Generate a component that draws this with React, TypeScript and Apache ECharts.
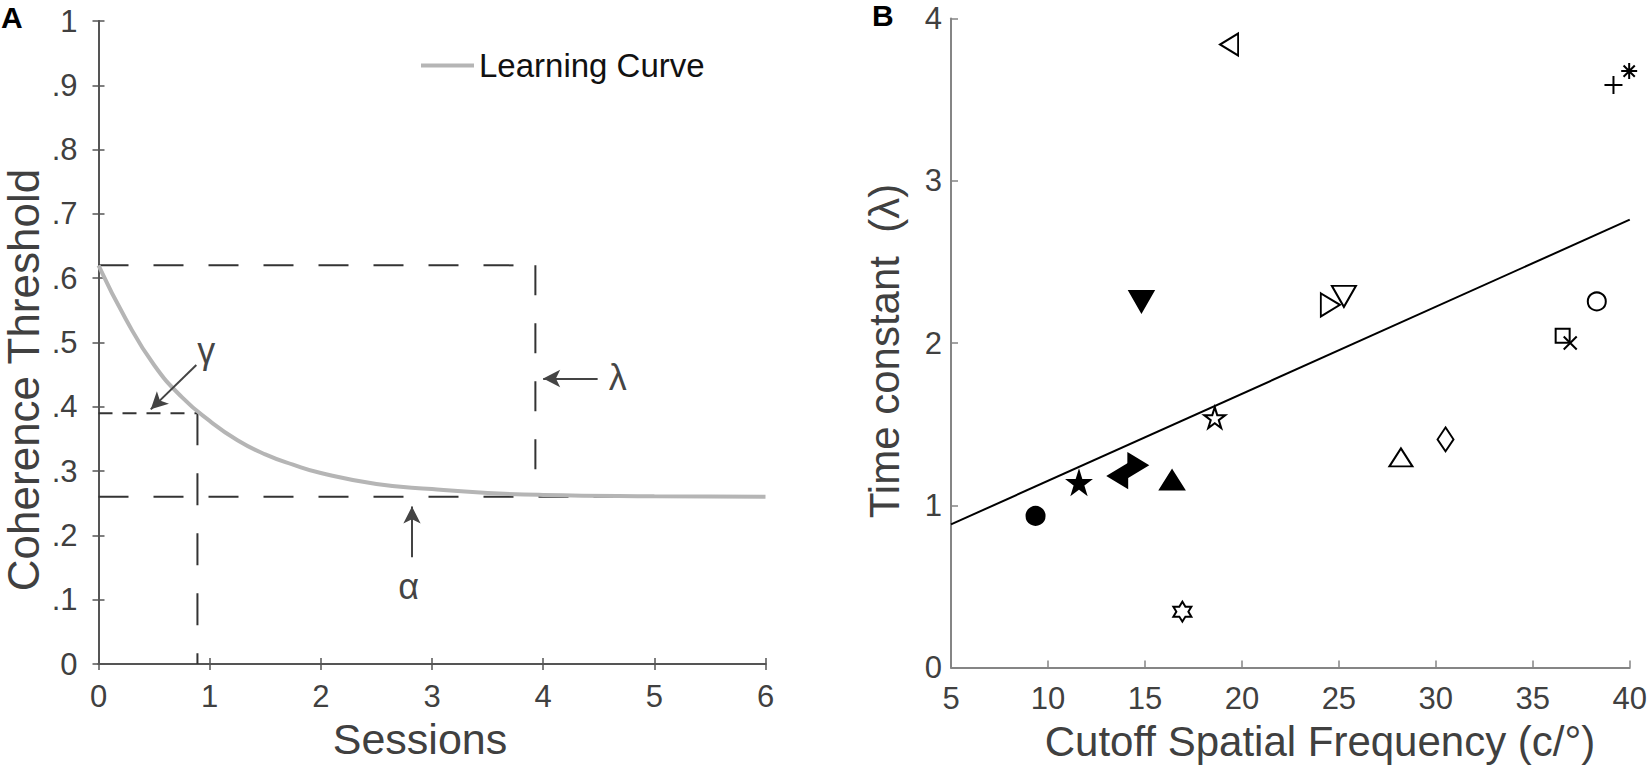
import React, { useEffect, useRef } from "react";
import * as echarts from "echarts";

// ---------- Panel A data ----------
const sessionRange = [0, 6];
const thresholdRange = [0, 1];
const curveSessions = [0, 0.25, 0.5, 0.75, 1, 1.25, 1.5, 1.75, 2, 2.5, 3, 3.5, 4, 5, 6];
const curveThreshold = [0.62, 0.535, 0.465, 0.415, 0.378, 0.348, 0.326, 0.31, 0.297, 0.28, 0.272, 0.266, 0.263, 0.261, 0.26];

const initialThreshold = 0.62;
const asymptoteThreshold = 0.26;
const gammaThreshold = 0.39;
const gammaSession = 0.89;
const lambdaSession = 3.93;
const asymptoteLineEnd = 5.4;

// arrows: [fromSession, fromThreshold, toSession, toThreshold]
const gammaArrow = [0.88, 0.465, 0.47, 0.396];
const lambdaArrow = [4.49, 0.444, 4.0, 0.444];
const alphaArrow = [2.82, 0.166, 2.82, 0.245];

const annotationText = ["γ", "λ", "α"];
const annotationSession = [0.97, 4.67, 2.79];
const annotationThreshold = [0.487, 0.445, 0.12];

// ---------- Panel B data ----------
const sfRange = [5, 40];
const timeRange = [0, 4];
const markerKinds = [
  "filledCircle", "filledPentagram", "filledLeftTriangle", "filledRightTriangle",
  "filledUpTriangle", "openPentagram", "openHexagram", "openUpTriangle", "openDiamond",
  "plus", "asterisk", "openCircle", "openSquare", "cross", "openLeftTriangle",
  "filledDownTriangle", "openRightTriangle", "openDownTriangle",
];
const cutoffSF = [9.36, 11.6, 13.6, 14.63, 16.4, 18.6, 16.93, 28.2, 30.5, 39.16, 39.97, 38.3, 36.54, 36.93, 19.34, 14.82, 24.56, 25.26];
const timeConstant = [0.934, 1.14, 1.18, 1.247, 1.155, 1.54, 0.344, 1.295, 1.406, 3.59, 3.676, 2.256, 2.044, 2.0, 3.84, 2.256, 2.235, 2.287];
const fitSF = [5, 40];
const fitTime = [0.882, 2.76];

// ---------- Styles ----------
const FONT = "'Liberation Sans', Arial, Helvetica, sans-serif";
const LABEL_COLOR = "#404040";

const STAR = "path://M50,0 L61.23,34.55 L97.55,34.55 L68.17,55.9 L79.39,90.45 L50,69.1 L20.61,90.45 L31.83,55.9 L2.45,34.55 L38.77,34.55 Z";
const HEX = "path://M50,0 L64.43,25 L93.3,25 L78.87,50 L93.3,75 L64.43,75 L50,100 L35.57,75 L6.7,75 L21.13,50 L6.7,25 L35.57,25 Z";
const UP = "path://M50,0 L100,86 L0,86 Z";
const DOWN = "path://M0,0 L100,0 L50,86 Z";
const LEFT = "path://M0,50 L86,0 L86,100 Z";
const RIGHT = "path://M0,0 L86,50 L0,100 Z";
const PLUS = "path://M50,0 L50,100 M0,50 L100,50";
const ASTER = "path://M50,0 L50,100 M0,50 L100,50 M15,15 L85,85 M85,15 L15,85";
const CROSS = "path://M0,0 L100,100 M100,0 L0,100";

const markerStyle: Record<string, { symbol: string; size: number[]; filled: boolean }> = {
  filledCircle: { symbol: "circle", size: [18, 18], filled: true },
  filledPentagram: { symbol: STAR, size: [22, 22], filled: true },
  filledLeftTriangle: { symbol: LEFT, size: [19, 23], filled: true },
  filledRightTriangle: { symbol: RIGHT, size: [19, 23], filled: true },
  filledUpTriangle: { symbol: UP, size: [24, 19], filled: true },
  openPentagram: { symbol: STAR, size: [21, 21], filled: false },
  openHexagram: { symbol: HEX, size: [18, 20], filled: false },
  openUpTriangle: { symbol: UP, size: [23, 18], filled: false },
  openDiamond: { symbol: "diamond", size: [16, 24], filled: false },
  plus: { symbol: PLUS, size: [18, 18], filled: true },
  asterisk: { symbol: ASTER, size: [16, 16], filled: true },
  openCircle: { symbol: "circle", size: [18, 18], filled: false },
  openSquare: { symbol: "rect", size: [14, 14], filled: false },
  cross: { symbol: CROSS, size: [13, 13], filled: true },
  openLeftTriangle: { symbol: LEFT, size: [18, 22], filled: false },
  filledDownTriangle: { symbol: DOWN, size: [24, 21], filled: true },
  openRightTriangle: { symbol: RIGHT, size: [19, 23], filled: false },
  openDownTriangle: { symbol: DOWN, size: [24, 21], filled: false },
};

function buildOption() {
  const axA = "#555555";
  const axB = "#858585";
  const tickLabel = (margin: number) => ({
    fontSize: 31,
    color: LABEL_COLOR,
    fontFamily: FONT,
    margin,
  });

  const dashed = (pts: number[][], dash: number[], name: string) => ({
    type: "line",
    name,
    xAxisIndex: 0,
    yAxisIndex: 0,
    data: pts,
    showSymbol: false,
    symbol: "none",
    silent: true,
    z: 2,
    lineStyle: { color: "#333333", width: 2, type: dash },
  });

  const arrowPair = (a: number[]) => [{ coord: [a[0], a[1]] }, { coord: [a[2], a[3]] }];

  const scatterData = markerKinds.map((k, i) => {
    const st = markerStyle[k];
    return {
      value: [cutoffSF[i], timeConstant[i]],
      symbol: st.symbol,
      symbolSize: st.size,
      itemStyle: {
        color: st.filled ? "#000000" : "#ffffff",
        borderColor: "#000000",
        borderWidth: 2,
        opacity: 1,
      },
    };
  });

  return {
    animation: false,
    backgroundColor: "#ffffff",
    grid: [
      { left: 98.5, top: 21, width: 667, height: 643 },
      { left: 951, top: 18.5, width: 681, height: 649 },
    ],
    legend: {
      data: ["Learning Curve"],
      left: 421,
      top: 49,
      icon: "rect",
      itemWidth: 53,
      itemHeight: 4,
      padding: 0,
      textStyle: { fontSize: 33, color: "#111111", fontFamily: FONT },
    },
    xAxis: [
      {
        gridIndex: 0, type: "value", min: sessionRange[0], max: sessionRange[1], interval: 1,
        position: "bottom",
        axisLine: { show: true, lineStyle: { color: axA, width: 2 } },
        axisTick: { show: true, inside: true, length: 6, lineStyle: { color: axA, width: 1.5 } },
        axisLabel: tickLabel(17),
        splitLine: { show: false },
      },
      {
        gridIndex: 0, type: "value", min: sessionRange[0], max: sessionRange[1], interval: 1,
        position: "top",
        axisLine: { show: true, lineStyle: { color: axA, width: 2 } },
        axisTick: { show: true, inside: true, length: 6, lineStyle: { color: axA, width: 1.5 } },
        axisLabel: { show: false },
        splitLine: { show: false },
      },
      {
        gridIndex: 1, type: "value", min: sfRange[0], max: sfRange[1], interval: 5,
        position: "bottom",
        axisLine: { show: true, lineStyle: { color: axB, width: 2 } },
        axisTick: { show: true, inside: true, length: 7, lineStyle: { color: axB, width: 1.5 } },
        axisLabel: tickLabel(15),
        splitLine: { show: false },
      },
    ],
    yAxis: [
      {
        gridIndex: 0, type: "value", min: thresholdRange[0], max: thresholdRange[1], interval: 0.1,
        position: "left",
        axisLine: { show: true, lineStyle: { color: axA, width: 2 } },
        axisTick: { show: true, inside: true, length: 6, lineStyle: { color: axA, width: 1.5 } },
        axisLabel: {
          ...tickLabel(21),
          formatter: (v: number) => {
            const t = Math.round(v * 10);
            if (t === 0) return "0";
            if (t === 10) return "1";
            return "." + t;
          },
        },
        splitLine: { show: false },
      },
      {
        gridIndex: 0, type: "value", min: thresholdRange[0], max: thresholdRange[1], interval: 0.1,
        position: "right",
        axisLine: { show: true, lineStyle: { color: axA, width: 2 } },
        axisTick: { show: true, inside: true, length: 6, lineStyle: { color: axA, width: 1.5 } },
        axisLabel: { show: false },
        splitLine: { show: false },
      },
      {
        gridIndex: 1, type: "value", min: timeRange[0], max: timeRange[1], interval: 1,
        position: "left",
        axisLine: { show: true, lineStyle: { color: axB, width: 2 } },
        axisTick: { show: true, inside: true, length: 7, lineStyle: { color: axB, width: 1.5 } },
        axisLabel: tickLabel(9),
        splitLine: { show: false },
      },
    ],
    graphic: [
      { type: "text", left: 1, top: 2, style: { text: "A", fontSize: 30, fontWeight: "bold", fill: "#000", fontFamily: FONT } },
      { type: "text", left: 872, top: 0, style: { text: "B", fontSize: 30, fontWeight: "bold", fill: "#000", fontFamily: FONT } },
      {
        type: "text", x: 23, y: 380, rotation: Math.PI / 2,
        style: { text: "Coherence Threshold", fontSize: 44, fill: LABEL_COLOR, fontFamily: FONT, align: "center", verticalAlign: "middle" },
      },
      {
        type: "text", x: 420, y: 739,
        style: { text: "Sessions", fontSize: 43, fill: LABEL_COLOR, fontFamily: FONT, align: "center", verticalAlign: "middle" },
      },
      {
        type: "text", x: 884, y: 351, rotation: Math.PI / 2,
        style: { text: "Time constant \u00A0(λ)", fontSize: 42, fill: LABEL_COLOR, fontFamily: FONT, align: "center", verticalAlign: "middle" },
      },
      {
        type: "text", x: 1320, y: 741,
        style: { text: "Cutoff Spatial Frequency (c/°)", fontSize: 42, fill: LABEL_COLOR, fontFamily: FONT, align: "center", verticalAlign: "middle" },
      },
    ],
    series: [
      dashed([[0, initialThreshold], [lambdaSession, initialThreshold]], [30, 25], "d1"),
      dashed([[lambdaSession, initialThreshold], [lambdaSession, asymptoteThreshold]], [30, 28], "d2"),
      dashed([[0, asymptoteThreshold], [asymptoteLineEnd, asymptoteThreshold]], [30, 25], "d3"),
      dashed([[0, gammaThreshold], [gammaSession, gammaThreshold]], [14, 10], "d4"),
      dashed([[gammaSession, gammaThreshold], [gammaSession, 0]], [32, 28], "d5"),
      {
        type: "line",
        name: "Learning Curve",
        xAxisIndex: 0,
        yAxisIndex: 0,
        data: curveSessions.map((s, i) => [s, curveThreshold[i]]),
        smooth: true,
        showSymbol: false,
        symbol: "none",
        color: "#b5b5b5",
        lineStyle: { color: "#b5b5b5", width: 4 },
        z: 3,
      },
      {
        type: "line",
        name: "arrows",
        xAxisIndex: 0,
        yAxisIndex: 0,
        data: [[gammaArrow[0], gammaArrow[1]]],
        showSymbol: false,
        symbol: "none",
        lineStyle: { opacity: 0, width: 0 },
        silent: true,
        z: 4,
        markLine: {
          silent: true,
          symbol: ["none", "arrow"],
          symbolSize: [13, 17],
          label: { show: false },
          lineStyle: { color: "#444444", width: 2, type: "solid" },
          emphasis: { disabled: true },
          data: [arrowPair(gammaArrow), arrowPair(lambdaArrow), arrowPair(alphaArrow)],
        },
      },
      {
        type: "scatter",
        name: "annotations",
        xAxisIndex: 0,
        yAxisIndex: 0,
        symbolSize: 1,
        itemStyle: { color: "rgba(0,0,0,0)" },
        silent: true,
        data: annotationText.map((t, i) => ({
          value: [annotationSession[i], annotationThreshold[i]],
          label: {
            show: true,
            position: "inside",
            formatter: t,
            fontSize: 36,
            color: "#111111",
            fontFamily: FONT,
          },
        })),
      },
      {
        type: "line",
        name: "fit",
        xAxisIndex: 2,
        yAxisIndex: 2,
        data: fitSF.map((s, i) => [s, fitTime[i]]),
        showSymbol: false,
        symbol: "none",
        lineStyle: { color: "#000000", width: 2 },
        z: 2,
      },
      {
        type: "scatter",
        name: "subjects",
        xAxisIndex: 2,
        yAxisIndex: 2,
        data: scatterData,
        itemStyle: { opacity: 1 },
        z: 3,
      },
    ],
  };
}

export default function App() {
  const ref = useRef<HTMLDivElement>(null);
  useEffect(() => {
    if (!ref.current) return;
    const chart = echarts.init(ref.current, undefined, { renderer: "svg" });
    chart.setOption(buildOption() as any);
    return () => chart.dispose();
  }, []);
  return (
    <div
      ref={ref}
      style={{ position: "absolute", left: 0, top: 0, width: 1650, height: 765, background: "#fff" }}
    />
  );
}
